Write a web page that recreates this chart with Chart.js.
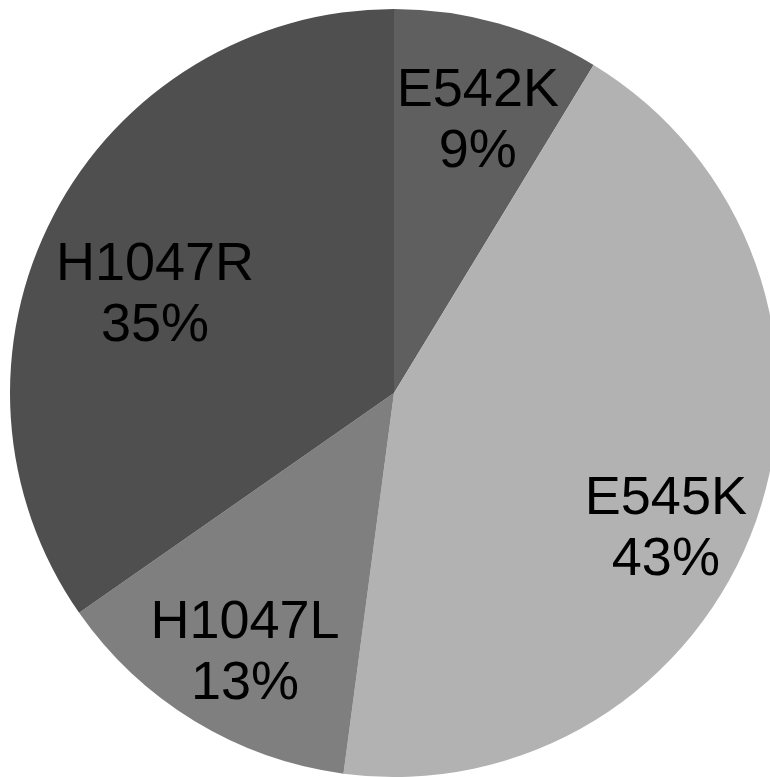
<!DOCTYPE html>
<html>
<head>
<meta charset="utf-8">
<script src="https://cdn.jsdelivr.net/npm/chart.js@4.4.1/dist/chart.umd.min.js"></script>
<style>
    html, body { margin: 0; padding: 0; background: #fff; overflow: hidden; width: 770px; height: 777px; }
    #pie { position: absolute; left: 10px; top: 9px; }
</style>
</head>
<body>
<canvas id="pie" width="768" height="768"></canvas>
<script>
// === DATA ===
const mutations = ["E542K", "E545K", "H1047L", "H1047R"];
const shares = [8.7, 43.4, 13.2, 34.7];
const pctLabels = ["9%", "43%", "13%", "35%"];
const sliceColors = ["#5f5f5f", "#b2b2b2", "#7f7f7f", "#4f4f4f"];

// label placement tweaks (deg from slice middle, fraction of radius)
const lblNudge = [1.2, 6.3, -1.1, -4.4];
const lblRad = [0.753, 0.786, 0.771, 0.677];

const sliceLabels = {
    id: 'sliceLabels',
    afterDatasetsDraw(chart) {
        const ctx = chart.ctx;
        const arcs = chart.getDatasetMeta(0).data;
        ctx.save();
        ctx.font = '54px "Liberation Sans", Arial, sans-serif';
        ctx.fillStyle = '#000';
        ctx.textAlign = 'center';
        ctx.textBaseline = 'alphabetic';
        arcs.forEach((arc, i) => {
            const p = arc.getProps(['x', 'y', 'startAngle', 'endAngle', 'outerRadius'], true);
            const a = (p.startAngle + p.endAngle) / 2 + lblNudge[i] * Math.PI / 180;
            const r = p.outerRadius * lblRad[i];
            const cx = p.x + Math.cos(a) * r;
            const cy = p.y + Math.sin(a) * r;
            // cap-height centre of each line sits ~19px above its baseline
            ctx.fillText(mutations[i], cx, cy - 30.5 + 20);
            ctx.fillText(pctLabels[i], cx, cy + 30.5 + 20);
        });
        ctx.restore();
    }
};

new Chart(document.getElementById('pie'), {
    type: 'pie',
    data: {
        labels: mutations,
        datasets: [{
            data: shares,
            backgroundColor: sliceColors,
            borderWidth: 0,
            hoverOffset: 0,
            offset: 0
        }]
    },
    options: {
        responsive: false,
        animation: false,
        layout: { padding: 0 },
        plugins: { legend: { display: false }, tooltip: { enabled: false } }
    },
    plugins: [sliceLabels]
});
</script>
</body>
</html>
